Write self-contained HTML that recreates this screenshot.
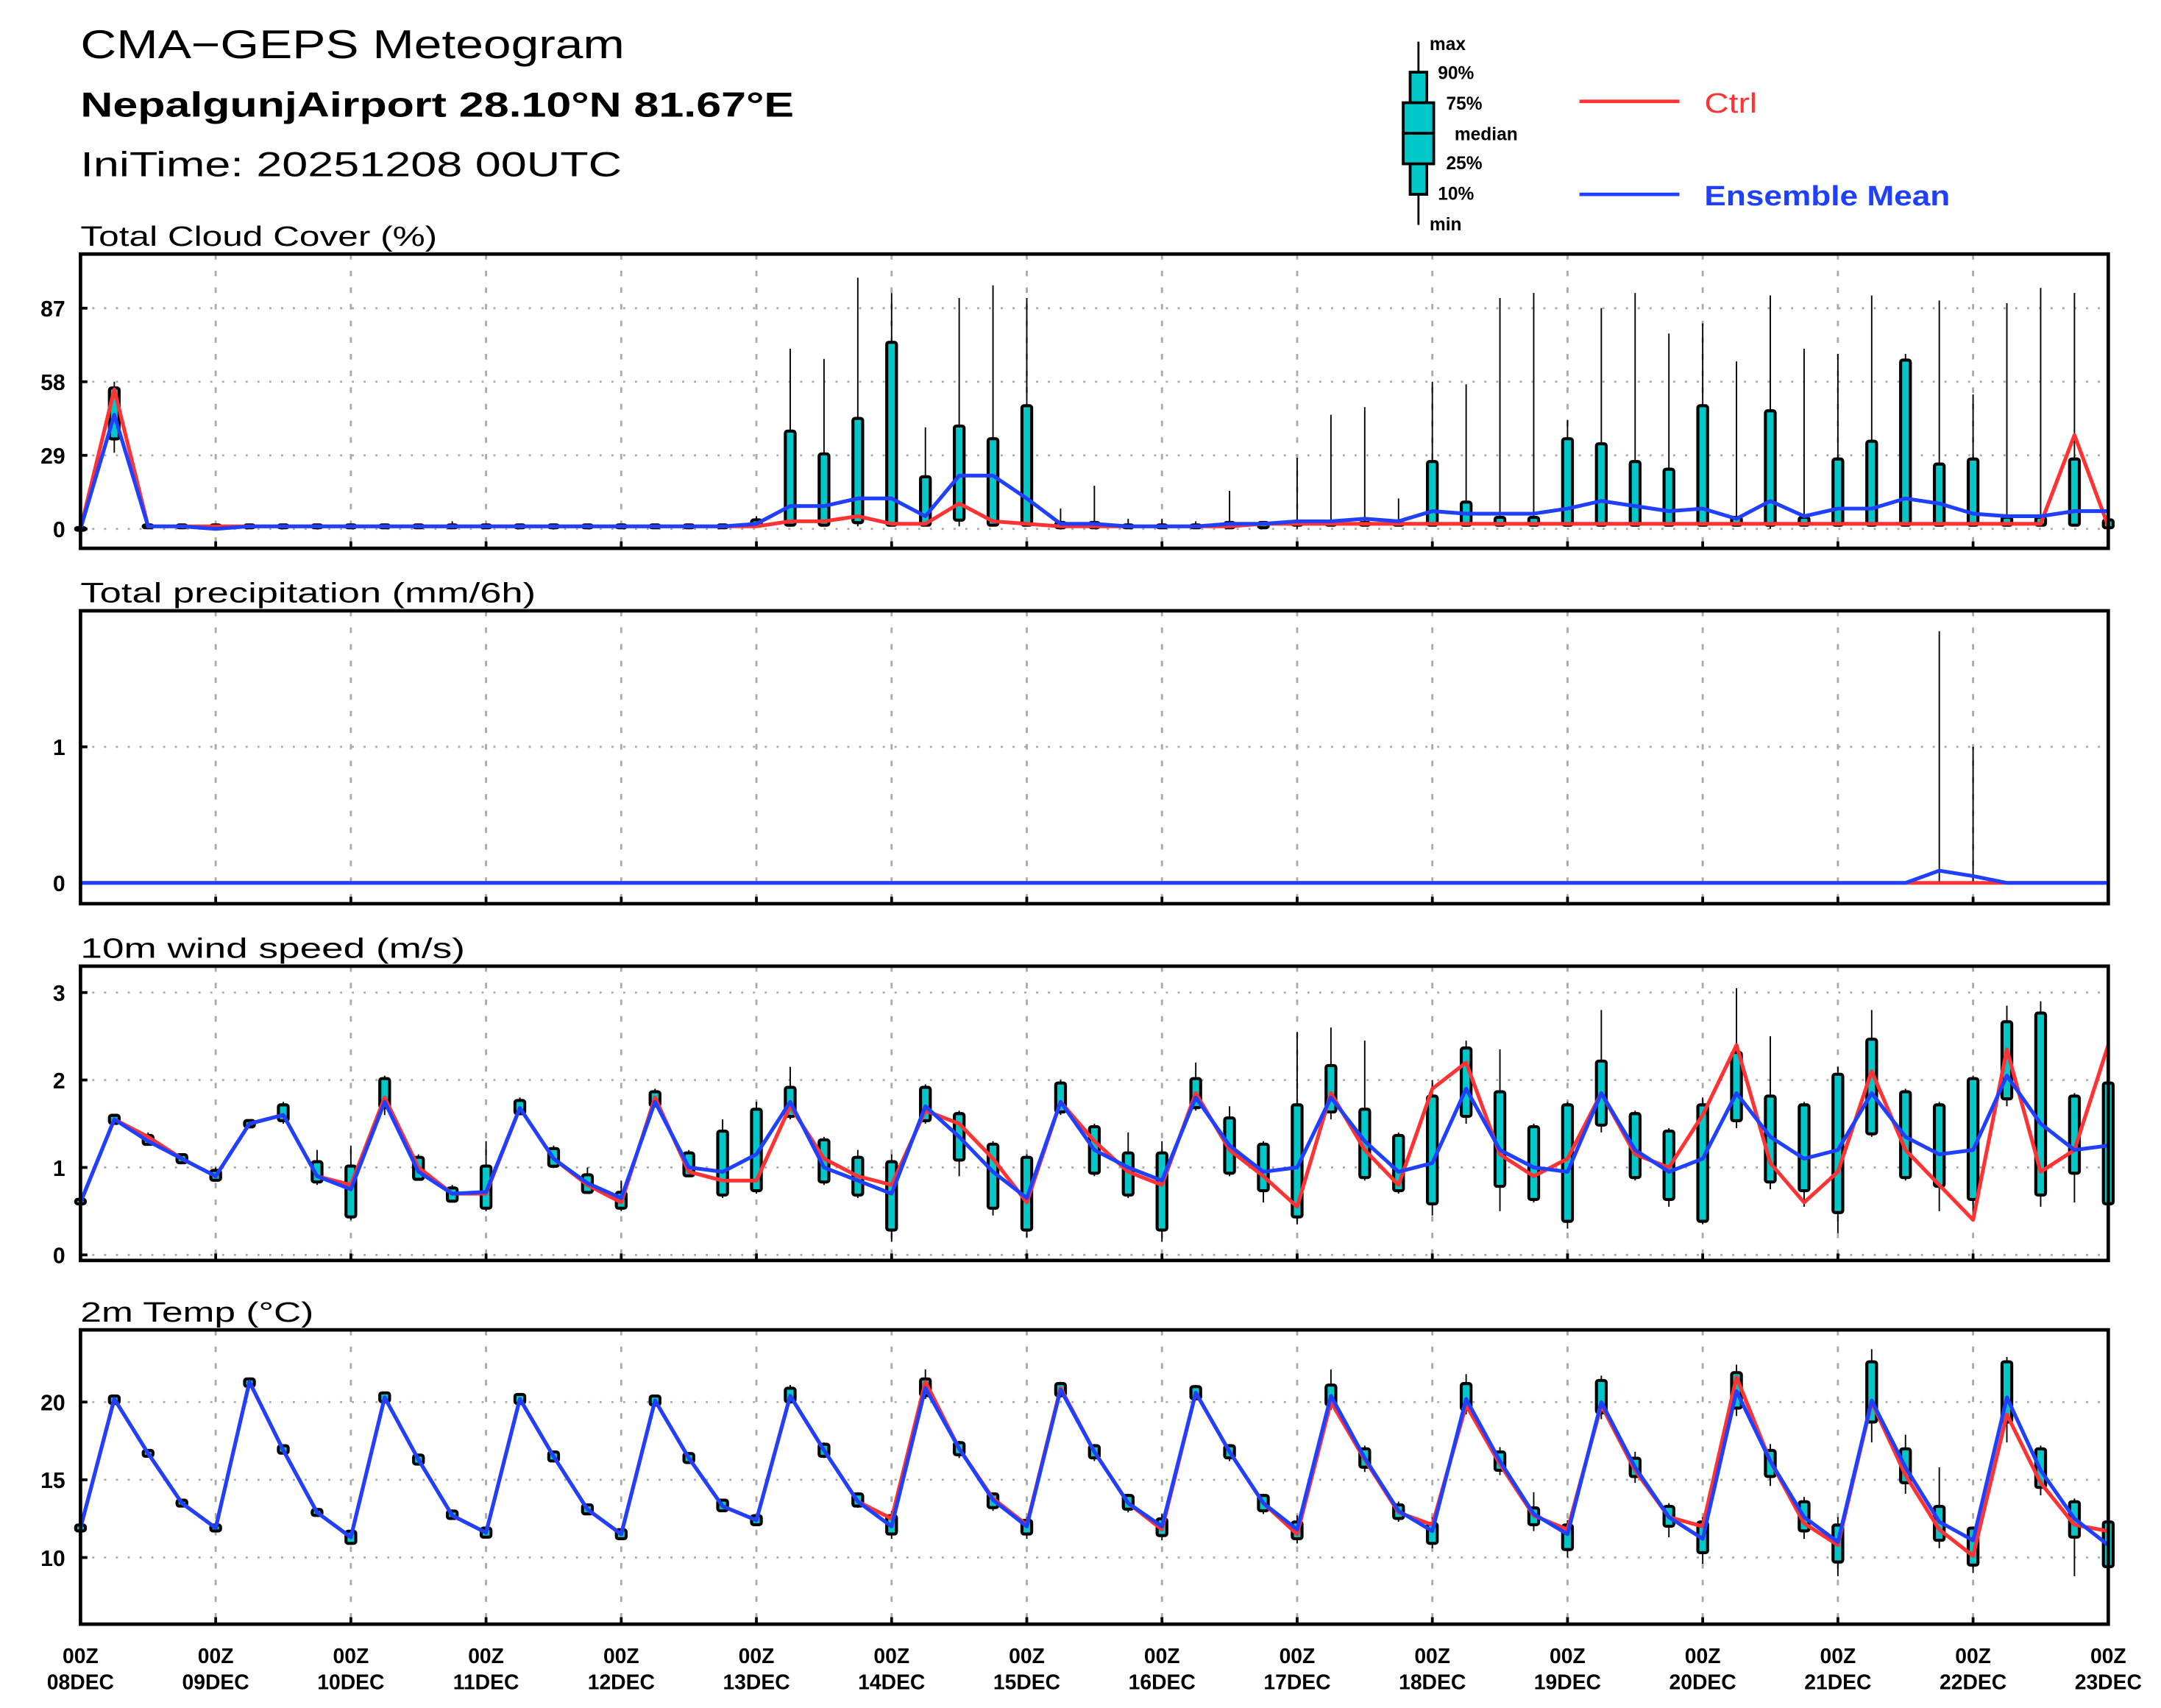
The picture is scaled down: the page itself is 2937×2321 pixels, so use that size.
<!DOCTYPE html>
<html><head><meta charset="utf-8"><style>html,body{margin:0;padding:0;background:#fff}svg{display:block}</style></head>
<body>
<svg id="chart" width="2937" height="2321" viewBox="0 0 1557 1230.4" preserveAspectRatio="none" xmlns="http://www.w3.org/2000/svg" font-family="Liberation Sans, sans-serif">
<rect width="1557" height="1231" fill="#fff"/>
<text x="58" y="42" font-size="29" textLength="392" lengthAdjust="spacingAndGlyphs">CMA−GEPS  Meteogram</text>
<text x="58" y="84" font-size="25" font-weight="bold" textLength="514" lengthAdjust="spacingAndGlyphs">NepalgunjAirport 28.10°N 81.67°E</text>
<text x="58" y="127" font-size="25" textLength="390" lengthAdjust="spacingAndGlyphs">IniTime: 20251208 00UTC</text>
<g font-size="13" font-weight="bold">
<line x1="1022" y1="30" x2="1022" y2="162" stroke="#000" stroke-width="1.5"/>
<rect x="1016" y="52" width="12" height="88" fill="#00c8c8" stroke="#000" stroke-width="2"/>
<rect x="1011" y="74" width="22" height="44" fill="#00c8c8" stroke="#000" stroke-width="2"/>
<line x1="1011" y1="96" x2="1033" y2="96" stroke="#000" stroke-width="2"/>
<text x="1030" y="36">max</text><text x="1036" y="57">90%</text><text x="1042" y="79">75%</text>
<text x="1048" y="101">median</text><text x="1042" y="122">25%</text><text x="1036" y="144">10%</text><text x="1030" y="166">min</text>
</g>
<g>
<line x1="1138" y1="73" x2="1210" y2="73" stroke="#ff3333" stroke-width="2.5"/>
<text x="1228" y="81" font-size="20" fill="#ff3333" textLength="38" lengthAdjust="spacingAndGlyphs">Ctrl</text>
<line x1="1138" y1="140" x2="1210" y2="140" stroke="#2040ff" stroke-width="2.5"/>
<text x="1228" y="148" font-size="20" fill="#2040ff" font-weight="bold" textLength="177" lengthAdjust="spacingAndGlyphs">Ensemble Mean</text>
</g>
<g id="plots"></g>
</svg>
<script>
// ---- data (61 steps, 6-hourly, 00Z 08DEC – 00Z 23DEC) ----
const dayLabels = ["08DEC","09DEC","10DEC","11DEC","12DEC","13DEC","14DEC","15DEC","16DEC","17DEC","18DEC","19DEC","20DEC","21DEC","22DEC","23DEC"];
const cloudTicks = [0,29,58,87];
const precipTicks = [0,1];
const windTicks = [0,1,2,3];
const tempTicks = [10,15,20];

const cloudCtrl = [0,55,1,1,1,1,1,1,1,1,1,1,1,1,1,1,1,1,1,1,1,3,3,5,2,2,10,3,2,1,1,1,1,1,1,2,2,2,2,2,2,2,2,2,2,2,2,2,2,2,2,2,2,2,2,2,2,2,2,37,1];
const cloudMean = [0,45,1,1,0,1,1,1,1,1,1,1,1,1,1,1,1,1,1,1,2,9,9,12,12,5,21,21,12,2,2,1,1,1,2,2,3,3,4,3,7,6,6,6,8,11,9,7,8,4,11,5,8,8,12,10,6,5,5,7,7];
const cloudMin = [0,30,1,1,0,1,1,1,1,1,1,1,1,1,1,1,1,1,1,1,1,1,1,1,1,1,1,1,1,1,1,1,1,1,1,1,0,1,1,1,1,1,1,1,1,1,1,1,1,1,0,1,1,1,1,1,1,1,1,1,0];
const cloudQ1 = [0,36,1,1,1,1,1,1,1,1,1,1,1,1,1,1,1,1,1,1,2,2,2,3,2,2,4,2,2,1,1,1,1,1,1,1,2,2,2,2,2,2,2,2,2,2,2,2,2,2,2,2,2,2,2,2,2,2,2,2,1];
const cloudQ3 = [0,55,1,1,1,1,1,1,1,1,1,1,1,1,1,1,1,1,1,1,3,38,29,43,73,20,40,35,48,2,2,1,1,1,2,2,2,2,2,2,26,10,4,4,35,33,26,23,48,4,46,4,27,34,66,25,27,4,4,27,3];
const cloudMax = [0,58,2,1,1,1,1,1,1,1,2,3,1,1,1,1,1,1,1,1,5,71,67,99,93,40,91,96,91,8,17,4,4,3,15,2,28,45,48,12,58,57,91,93,43,87,93,77,81,66,92,71,69,92,69,90,53,89,95,93,15];

const precipCtrl = Array(61).fill(0);
const precipMean = [0,0,0,0,0,0,0,0,0,0,0,0,0,0,0,0,0,0,0,0,0,0,0,0,0,0,0,0,0,0,0,0,0,0,0,0,0,0,0,0,0,0,0,0,0,0,0,0,0,0,0,0,0,0,0,0.09,0.05,0,0,0,0];
const precipMax = [0,0,0,0,0,0,0,0,0,0,0,0,0,0,0,0,0,0,0,0,0,0,0,0,0,0,0,0,0,0,0,0,0,0,0,0,0,0,0,0,0,0,0,0,0,0,0,0,0,0,0,0,0,0,0,1.85,1.0,0,0,0,0];

const windCtrl = [0.6,1.55,1.35,1.1,0.9,1.5,1.6,0.9,0.8,1.8,1.0,0.7,0.7,1.68,1.1,0.8,0.6,1.8,0.95,0.85,0.85,1.7,1.1,0.9,0.8,1.65,1.5,1.1,0.6,1.75,1.3,0.95,0.8,1.85,1.2,0.9,0.55,1.85,1.2,0.8,1.9,2.2,1.15,0.9,1.1,1.85,1.15,1.0,1.6,2.4,1.05,0.6,0.95,2.1,1.2,0.8,0.4,2.35,0.95,1.2,2.4];
const windMean = [0.6,1.55,1.3,1.1,0.9,1.5,1.6,0.9,0.75,1.75,0.95,0.7,0.72,1.68,1.1,0.82,0.65,1.75,1.0,0.95,1.15,1.75,1.0,0.85,0.7,1.7,1.35,0.95,0.65,1.75,1.2,1.0,0.85,1.8,1.25,0.95,1.0,1.8,1.3,0.95,1.05,1.9,1.2,1.0,0.95,1.85,1.2,0.95,1.1,1.85,1.35,1.1,1.2,1.85,1.35,1.15,1.2,2.05,1.5,1.2,1.25];
const windMin = [0.58,1.5,1.25,1.05,0.85,1.47,1.5,0.8,0.4,1.6,0.85,0.6,0.5,1.6,1.0,0.7,0.5,1.7,0.9,0.65,0.7,1.55,0.8,0.65,0.15,1.5,0.9,0.45,0.2,1.6,0.9,0.65,0.15,1.65,0.9,0.6,0.35,1.55,0.85,0.7,0.45,1.5,0.5,0.6,0.3,1.4,0.85,0.55,0.35,1.45,0.75,0.55,0.25,1.35,0.85,0.5,0.45,1.7,0.55,0.6,0.6];
const windQ1 = [0.6,1.52,1.28,1.07,0.87,1.48,1.55,0.85,0.45,1.7,0.88,0.63,0.55,1.63,1.03,0.73,0.55,1.72,0.92,0.7,0.75,1.6,0.85,0.7,0.3,1.55,1.1,0.55,0.3,1.65,0.95,0.7,0.3,1.7,0.95,0.75,0.45,1.65,0.9,0.75,0.6,1.6,0.8,0.65,0.4,1.5,0.9,0.65,0.4,1.55,0.85,0.75,0.5,1.4,0.9,0.8,0.65,1.8,0.7,0.95,0.6];
const windQ3 = [0.62,1.58,1.35,1.13,0.95,1.52,1.7,1.05,1.0,2.0,1.1,0.75,1.0,1.75,1.2,0.9,0.7,1.85,1.15,1.4,1.65,1.9,1.3,1.1,1.05,1.9,1.6,1.25,1.1,1.95,1.45,1.15,1.15,2.0,1.55,1.25,1.7,2.15,1.65,1.35,1.8,2.35,1.85,1.45,1.7,2.2,1.6,1.4,1.7,2.3,1.8,1.7,2.05,2.45,1.85,1.7,2.0,2.65,2.75,1.8,1.95];
const windMax = [0.65,1.6,1.4,1.15,1.0,1.55,1.75,1.2,1.25,2.05,1.15,0.8,1.3,1.8,1.25,1.0,0.85,1.9,1.2,1.55,1.75,2.15,1.35,1.2,1.15,1.95,1.65,1.3,1.15,2.0,1.5,1.4,1.3,2.2,1.7,1.3,2.55,2.6,2.45,1.4,2.0,2.45,2.35,1.5,1.75,2.8,1.65,1.45,1.8,3.05,2.5,1.75,2.15,2.8,1.9,1.75,2.05,2.85,2.9,1.85,2.0];

const tempCtrl = [11.9,20.2,16.7,13.5,11.9,21.3,16.9,12.9,11.3,20.3,16.3,12.7,11.6,20.2,16.5,13.1,11.5,20.1,16.4,13.3,12.4,20.4,16.9,13.6,12.5,21.3,17.0,13.8,12.1,20.9,16.8,13.5,11.8,20.6,16.8,13.5,11.5,20.0,16.3,12.9,12.1,19.8,16.0,12.7,11.8,19.8,15.6,12.6,12.0,21.6,16.2,12.2,10.8,20.0,15.3,11.8,10.1,19.2,14.8,12.1,11.7];
const tempMean = [11.9,20.2,16.7,13.5,11.9,21.3,16.9,12.9,11.3,20.3,16.3,12.7,11.6,20.2,16.5,13.1,11.5,20.1,16.4,13.3,12.4,20.4,16.9,13.6,12.0,20.9,17.0,13.7,12.0,20.8,16.8,13.5,12.0,20.6,16.8,13.5,11.8,20.4,16.4,13.0,11.7,20.2,16.2,12.8,11.5,20.0,15.8,12.6,11.2,20.7,16.2,12.6,11.0,20.1,15.8,12.3,11.1,20.3,15.6,12.5,10.8];
const tempMin = [11.7,19.9,16.5,13.3,11.7,21.0,16.7,12.7,10.9,20.0,16.0,12.5,11.3,19.9,16.2,12.8,11.2,19.8,16.1,13.0,12.1,19.9,16.4,13.2,11.2,20.2,16.4,13.0,11.2,20.3,16.2,12.9,11.1,20.1,16.2,12.8,10.9,19.5,15.5,12.3,10.6,19.2,15.3,11.7,10.0,18.9,14.8,11.3,9.6,19.1,14.6,11.2,8.8,17.4,14.1,10.6,9.0,17.4,14.0,8.8,9.0];
const tempQ1 = [11.8,20.0,16.6,13.4,11.8,21.1,16.8,12.8,11.0,20.1,16.1,12.6,11.4,20.0,16.3,12.9,11.3,19.9,16.2,13.1,12.2,20.1,16.6,13.4,11.6,20.5,16.7,13.3,11.6,20.5,16.5,13.2,11.5,20.3,16.5,13.1,11.3,19.9,15.9,12.6,11.0,19.6,15.7,12.2,10.6,19.4,15.3,12.1,10.4,19.7,15.3,11.8,9.8,18.8,14.9,11.2,9.6,18.8,14.6,11.4,9.5];
const tempQ3 = [12.0,20.3,16.8,13.6,12.0,21.4,17.1,13.0,11.6,20.5,16.5,12.9,11.8,20.4,16.7,13.3,11.7,20.3,16.6,13.6,12.6,20.8,17.2,14.0,12.6,21.4,17.3,14.0,12.3,21.1,17.1,13.9,12.4,20.9,17.1,13.9,12.2,21.0,16.9,13.3,12.1,21.1,16.7,13.1,12.0,21.3,16.3,13.2,12.2,21.8,16.8,13.5,12.0,22.5,16.9,13.2,11.8,22.5,16.9,13.5,12.2];
const tempMax = [12.1,20.4,16.9,13.7,12.1,21.5,17.2,13.1,11.7,20.6,16.6,13.0,11.9,20.5,16.8,13.4,11.8,20.4,16.7,13.7,12.7,21.1,17.4,14.2,13.0,22.1,17.5,14.2,12.6,21.3,17.3,14.1,12.8,21.1,17.3,14.1,12.7,22.1,17.2,13.6,12.6,21.8,17.1,14.2,12.4,21.7,16.8,13.5,12.6,22.4,17.3,13.9,12.6,23.4,17.9,15.8,12.0,22.9,17.2,13.8,12.7];

// ---- rendering ----
const NS = "http://www.w3.org/2000/svg";
const X0 = 58, X1 = 1519, NSTEP = 60;
function xAt(i){ return X0 + (X1 - X0) * i / NSTEP; }
function mk(tag, attrs, parent){ const e = document.createElementNS(NS, tag); for (const k in attrs) e.setAttribute(k, attrs[k]); parent.appendChild(e); return e; }
const root = document.getElementById("plots");

function panel(cfg){
  const g = mk("g", {}, root);
  
  
  const yAt = v => cfg.y0px + (v - cfg.v0) * (cfg.y1px - cfg.y0px) / (cfg.v1 - cfg.v0);
  const t = mk("text", {x: 58, y: cfg.top - 6, "font-size": 20, textLength: cfg.titleLen, lengthAdjust: "spacingAndGlyphs"}, g);
  t.textContent = cfg.title;
  
  
  for (let d = 1; d < 15; d++) {
    const gl = mk("line", {x1: xAt(d*4), x2: xAt(d*4), y1: cfg.top, y2: cfg.bottom, stroke: "#aaa", "stroke-width": 1.5, "stroke-dasharray": "4 8"}, g);
    
    
  }
  cfg.ticks.forEach(v => {
    const y = yAt(v);
    const hl = mk("line", {x1: X0, x2: X1, y1: y, y2: y, stroke: "#aaa", "stroke-width": 1.5, "stroke-dasharray": "1.5 7"}, g);
    
    
    mk("line", {x1: X0, x2: X0 + 5, y1: y, y2: y, stroke: "#000", "stroke-width": 2}, g);
    const tl = mk("text", {x: 47, y: y + 6, "font-size": 16, "font-weight": "bold", "text-anchor": "end"}, g);
    tl.textContent = v;
    
    
  });
  if (cfg.max) {
    for (let i = 0; i <= NSTEP; i++) {
      const x = xAt(i);
      const w = mk("line", {x1: x, x2: x, y1: yAt(cfg.min ? cfg.min[i] : 0), y2: yAt(cfg.max[i]), stroke: "#000", "stroke-width": 1}, g);
      
      
      if (cfg.q1) {
        const ya = yAt(cfg.q3[i]), yb = yAt(cfg.q1[i]);
        const b = mk("rect", {x: x - 3.5, y: ya - 1, width: 7, height: Math.max(2, yb - ya + 2), fill: "#00c8c8", stroke: "#000", "stroke-width": 2.2, rx: 1.5}, g);
        
        
      }
    }
  }
  const line = (arr, col, nm) => {
    const p = mk("polyline", {points: arr.map((v, i) => xAt(i) + "," + yAt(v)).join(" "), fill: "none", stroke: col, "stroke-width": 2.7, "stroke-linejoin": "round"}, g);
    
    
  };
  line(cfg.ctrl, "#ff3333", cfg.name + "-ctrl-line");
  line(cfg.mean, "#2040ff", cfg.name + "-mean-line");
  const f = mk("rect", {x: X0, y: cfg.top, width: X1 - X0, height: cfg.bottom - cfg.top, fill: "none", stroke: "#000", "stroke-width": 2.5}, g);
  
  
  for (let d = 0; d <= 15; d++) mk("line", {x1: xAt(d*4), x2: xAt(d*4), y1: cfg.bottom, y2: cfg.bottom - 5, stroke: "#000", "stroke-width": 2}, g);
}

panel({name: "cloud", title: "Total Cloud Cover (%)", titleLen: 257, top: 183, bottom: 395, v0: 0, v1: 87, y0px: 381, y1px: 222, ticks: cloudTicks, ctrl: cloudCtrl, mean: cloudMean, min: cloudMin, q1: cloudQ1, q3: cloudQ3, max: cloudMax});
panel({name: "precip", title: "Total precipitation (mm/6h)", titleLen: 328, top: 440, bottom: 651, v0: 0, v1: 1, y0px: 636, y1px: 538, ticks: precipTicks, ctrl: precipCtrl, mean: precipMean, max: precipMax});
panel({name: "wind", title: "10m wind speed (m/s)", titleLen: 277, top: 696, bottom: 908, v0: 0, v1: 3, y0px: 904, y1px: 715, ticks: windTicks, ctrl: windCtrl, mean: windMean, min: windMin, q1: windQ1, q3: windQ3, max: windMax});
panel({name: "temp", title: "2m Temp (°C)", titleLen: 168, top: 958, bottom: 1170, v0: 10, v1: 20, y0px: 1122, y1px: 1010, ticks: tempTicks, ctrl: tempCtrl, mean: tempMean, min: tempMin, q1: tempQ1, q3: tempQ3, max: tempMax});

dayLabels.forEach((lab, d) => {
  const x = xAt(d*4);
  const a = mk("text", {x: x, y: 1198, "font-size": 15, "font-weight": "bold", "text-anchor": "middle"}, root);
  a.textContent = "00Z";
  
  
  const b = mk("text", {x: x, y: 1217, "font-size": 15, "font-weight": "bold", "text-anchor": "middle"}, root);
  b.textContent = lab;
  
  
});
</script>
</body></html>
